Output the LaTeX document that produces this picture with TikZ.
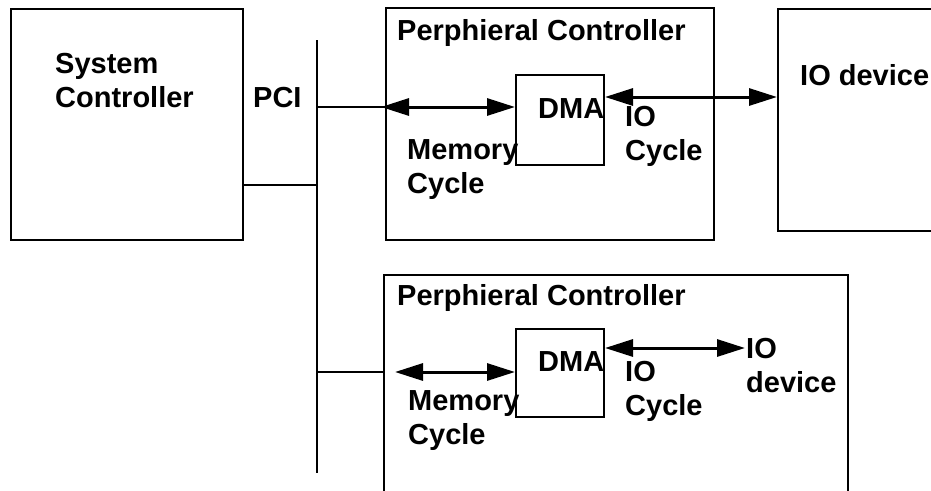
\documentclass[tikz,border=0pt]{standalone}
\usepackage{fontspec}
\setmainfont{Liberation Sans}
\usetikzlibrary{arrows.meta}
\begin{document}
\begin{tikzpicture}[x=1pt,y=-1pt,
  box/.style={draw,line width=2pt,rectangle,inner sep=0pt,anchor=north west},
  lbl/.style={font=\fontsize{29}{34}\selectfont\bfseries,inner sep=0pt,anchor=base west,align=left},
  dbl/.style={line width=3pt,{Triangle[length=28pt,width=17pt]}-{Triangle[length=28pt,width=17pt]}},
  wire/.style={line width=2pt}]
\useasboundingbox (0,0) rectangle (931,490);
\clip (0,0) rectangle (931,490);
% boxes
\node[box,minimum width=232pt,minimum height=231pt] (sys) at (10,8) {};
\node[box,minimum width=328pt,minimum height=232pt] (pc1) at (385,7) {};
\node[box,minimum width=88pt,minimum height=90pt] (dma1) at (515,74) {};
\node[box,minimum width=200pt,minimum height=222pt] (io1) at (777,8) {};
\node[box,minimum width=464pt,minimum height=260pt] (pc2) at (383,274) {};
\node[box,minimum width=88pt,minimum height=88pt] (dma2) at (515,328) {};
% bus
\coordinate (bt) at (317,40);
\coordinate (bb) at (317,473);
\draw[wire,line width=2.5pt] (bt) -- (bb);
\coordinate (j1) at (317,185);
\coordinate (j2) at (317,107);
\coordinate (j3) at (317,372);
\draw[wire] (j1) -- (j1 -| sys.east);
\draw[wire] (j2) -- (j2 -| pc1.west);
\draw[wire] (j3) -- (j3 -| pc2.west);
% labels (multi-line nodes: base = last line)
\node[lbl] (tsys) at (55,107) {System\\Controller};
\node[lbl] (tpci) at (253,107) {PCI};
\node[lbl] (tpc1) at (397,40) {Perphieral Controller};
\node[lbl] (tpc2) at (397,305) {Perphieral Controller};
\node[lbl] (tdma1) at (538,118) {DMA};
\node[lbl] (tdma2) at (538,371) {DMA};
\node[lbl] (tioc1) at (625,160) {IO\\Cycle};
\node[lbl] (tioc2) at (625,415) {IO\\Cycle};
\node[lbl] (tmem1) at (407,193) {Memory\\Cycle};
\node[lbl] (tmem2) at (408,444) {Memory\\Cycle};
\node[lbl] (tio1) at (800,85) {IO device};
\node[lbl] (tio2) at (746,392) {IO\\device};
% arrows
\draw[dbl] ([xshift=-4pt]j2 -| pc1.west) -- (j2 -| dma1.west);
\coordinate (r1) at ([yshift=-23pt]dma1.north east);
\draw[dbl] (r1) -- (r1 -| io1.west);
\draw[dbl] ([xshift=12pt]j3 -| pc2.west) -- (j3 -| dma2.west);
\coordinate (r2) at ([yshift=-20pt]dma2.north east);
\coordinate (io2tip) at (745,348);
\draw[dbl] (r2) -- (io2tip);
\end{tikzpicture}
\end{document}
